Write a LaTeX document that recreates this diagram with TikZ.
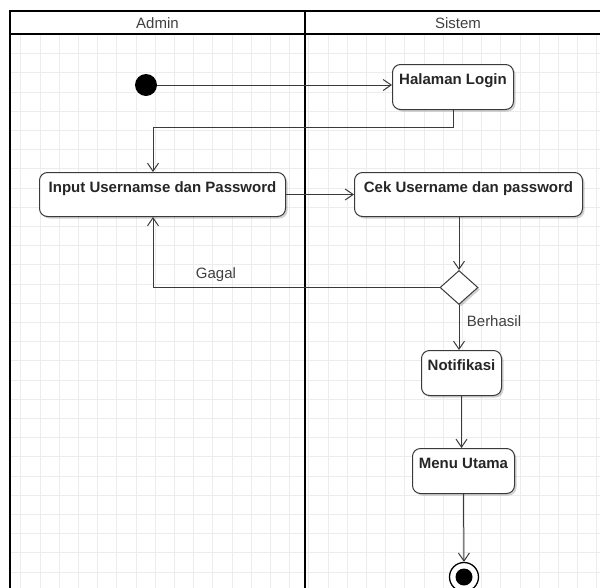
\documentclass[tikz,border=0pt]{standalone}
\usepackage{fontspec}
\setmainfont{Liberation Sans}
\usetikzlibrary{arrows.meta,shapes.geometric,shadows}
\definecolor{linec}{HTML}{3A3A3A}
\definecolor{gridc}{HTML}{ECECEC}
\tikzset{
  act/.style={draw=linec, line width=1pt, rounded corners=8pt, fill=white,
    font=\bfseries\fontsize{15}{17}\selectfont, text=black!85,
    inner xsep=2pt, inner ysep=4pt, text height=15.5pt, text depth=21.5pt,
    anchor=north west,
    drop shadow={shadow xshift=2pt, shadow yshift=-2pt, opacity=0.18, fill=black}},
  conn/.style={draw=linec, line width=1pt},
  arr/.style={conn, -{Straight Barb[length=8pt,width=11pt,line width=1pt]}},
  lbl/.style={font=\fontsize{15}{17}\selectfont, text=black!75, inner sep=0pt},
  hdr/.style={font=\fontsize{15}{17}\selectfont, text=black!75, inner sep=0pt}
}
\begin{document}
\begin{tikzpicture}[x=1pt,y=-1pt]
\useasboundingbox (0,0) rectangle (600,587);
% grid
\begin{scope}
\clip (10,34) rectangle (612,600);
\foreach \i in {0,...,32} \draw[gridc, line width=0.7pt] ({1.5+19.2*\i},34) -- ({1.5+19.2*\i},600);
\foreach \i in {1,...,30} \draw[gridc, line width=0.7pt] (10,{15.1+19.2*\i}) -- (612,{15.1+19.2*\i});
\end{scope}
% frame
\draw[line width=1.5pt] (10,11) rectangle (612,600);
\draw[line width=1.5pt] (10,34) -- (612,34);
\draw[line width=2.6pt] (305,11) -- (305,600);
\node[hdr] (hadmin) at (157.5,23) {Admin};
\node[hdr] (hsistem) at (458,23) {Sistem};
% nodes
\node[circle, fill=black, minimum size=22pt, inner sep=0pt] (start) at (146,85) {};
\node[act, minimum width=121pt, minimum height=45pt] (login) at (392,64) {Halaman Login};
\node[act, minimum width=246pt, minimum height=44pt, text depth=20.5pt] (input) at (39,172) {Input Usernamse dan Password};
\node[act, minimum width=228pt, minimum height=44pt, text depth=20.5pt] (cek) at (354,172) {Cek Username dan password};
\node[diamond, draw=linec, line width=1pt, fill=white, inner sep=0pt, minimum width=38pt, minimum height=34pt, aspect=1.1,
  drop shadow={shadow xshift=2pt, shadow yshift=-2pt, opacity=0.18, fill=black}] (dec) at (459,287.5) {};
\node[act, minimum width=80pt, minimum height=45pt] (notif) at (421,350) {Notifikasi};
\node[act, minimum width=102pt, minimum height=45pt] (menu) at (412,448) {Menu Utama};
\node[circle, draw=black, line width=1.3pt, fill=white, minimum size=29pt, inner sep=0pt] (fin) at (464,577) {};
\node[circle, fill=black, minimum size=17pt, inner sep=0pt] (finin) at (fin.center) {};
% connectors
\coordinate (c1) at (153,127);
\draw[arr] (start.east) -- (start.east -| login.west);
\draw[arr] (login.south) |- (c1) -- (c1 |- input.north);
\draw[arr] (input.east) -- (cek.west);
\draw[arr] (dec.north |- cek.south) -- (dec.north);
\draw[arr] (dec.west) -| (c1 |- input.south);
\node[lbl] (gagal) at (216,275) {Gagal};
\draw[arr] (dec.south) -- (dec.south |- notif.north);
\node[lbl] (berhasil) at (494,321) {Berhasil};
\draw[arr] (notif.south) -- (notif.south |- menu.north);
\draw[arr] (menu.south) -- (fin.north);
\end{tikzpicture}
\end{document}
